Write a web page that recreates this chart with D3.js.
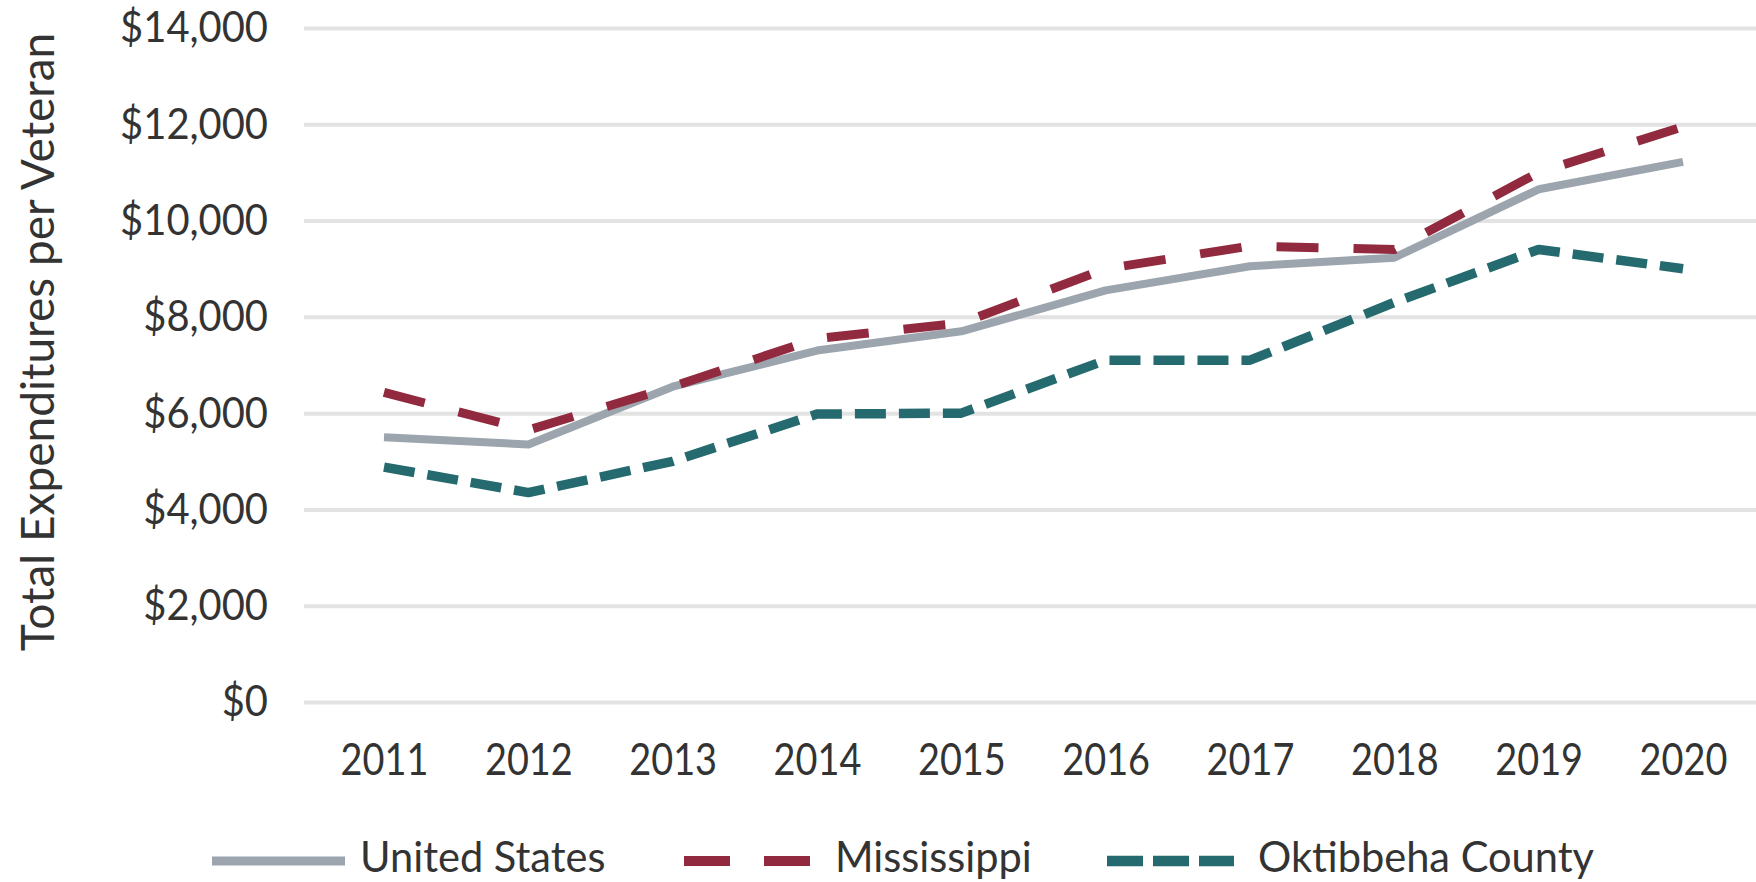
<!DOCTYPE html>
<meta charset="utf-8">
<style>
body { margin: 0; background: #fff; }
text { font-family: Lato, "Open Sans", sans-serif; fill: #333; }
.grid line { stroke: #e3e3e3; stroke-width: 4; }
.line { fill: none; }
</style>
<body>
<div id="chart"></div>
<script src="https://d3js.org/d3.v7.min.js"></script>
<script>
// data
var years = ["2011", "2012", "2013", "2014", "2015", "2016", "2017", "2018", "2019", "2020"];
var unitedStates = [5500, 5350, 6550, 7300, 7700, 8550, 9050, 9230, 10650, 11220];
var mississippi  = [6430, 5650, 6550, 7550, 7870, 9000, 9470, 9400, 11000, 11950];
var oktibbeha    = [4880, 4350, 5000, 5980, 6000, 7100, 7100, 8300, 9400, 9000];
var yTicks = [0, 2000, 4000, 6000, 8000, 10000, 12000, 14000];
var seriesNames = ["United States", "Mississippi", "Oktibbeha County"];
var yTitle = "Total Expenditures per Veteran";

var W = 1756, H = 882;
var plot = {left: 304, right: 1756, top: 28, bottom: 702};

// line look per series
var styles = [
  {color: "#9ca4ae", width: 8, dash: null},
  {color: "#922a3f", width: 9, dash: "42,35"},
  {color: "#256a6e", width: 9.5, dash: "31,13"}
];

var svg = d3.select("#chart").append("svg")
    .attr("width", W)
    .attr("height", H);

var x = d3.scalePoint()
    .domain(years)
    .range([384, 1683]);

var y = d3.scaleLinear()
    .domain([0, 14000])
    .range([plot.bottom, plot.top]);

// squeeze text a bit, the reference font is narrow
function squeeze(sel, k) {
  sel.each(function() {
    var len = this.getComputedTextLength();
    d3.select(this).attr("textLength", len * k).attr("lengthAdjust", "spacingAndGlyphs");
  });
}

// gridlines + y labels
var yAxis = svg.append("g")
    .attr("class", "grid")
    .attr("transform", "translate(" + plot.left + ",0)")
    .call(d3.axisLeft(y)
      .tickValues(yTicks)
      .tickSize(-(plot.right - plot.left))
      .tickPadding(36)
      .tickFormat(function(d) { return "$" + d3.format(",")(d); }));
yAxis.select(".domain").remove();
yAxis.selectAll("text")
    .attr("font-size", 42)
    .attr("font-family", "Lato")
    .attr("fill", "#333")
    .attr("dy", "0.33em")
    .call(squeeze, 0.95);

// x labels
var xAxis = svg.append("g")
    .attr("transform", "translate(0," + plot.bottom + ")")
    .call(d3.axisBottom(x).tickSize(0).tickPadding(0));
xAxis.select(".domain").remove();
xAxis.selectAll("text")
    .attr("font-size", 44)
    .attr("font-family", "Lato")
    .attr("fill", "#333")
    .attr("dy", 0)
    .attr("y", 73)
    .call(squeeze, 0.86);

// y title
svg.append("text")
    .attr("transform", "translate(54,342) rotate(-90)")
    .attr("text-anchor", "middle")
    .attr("font-size", 46)
    .text(yTitle);

var line = d3.line()
    .x(function(d, i) { return x(years[i]); })
    .y(function(d) { return y(d); });

var allSeries = [unitedStates, mississippi, oktibbeha];
allSeries.forEach(function(vals, i) {
  var s = styles[i];
  svg.append("path")
      .datum(vals)
      .attr("class", "line")
      .attr("stroke", s.color)
      .attr("stroke-width", s.width)
      .attr("stroke-dasharray", s.dash)
      .attr("stroke-linejoin", "round")
      .attr("d", line);
});

// legend
var legendItems = [
  {x1: 212, x2: 345, tx: 360},
  {x1: 684, x2: 810, tx: 835},
  {x1: 1107, x2: 1234, tx: 1258}
];
var legendY = 861;
legendItems.forEach(function(it, i) {
  var s = styles[i];
  svg.append("line")
      .attr("x1", it.x1).attr("x2", it.x2)
      .attr("y1", legendY).attr("y2", legendY)
      .attr("stroke", s.color)
      .attr("stroke-width", s.width + 1)
      .attr("stroke-dasharray", i == 2 ? "36,10" : (i == 1 ? "46,34" : null));
  svg.append("text")
      .attr("x", it.tx)
      .attr("y", 872)
      .attr("font-size", 42)
      .text(seriesNames[i])
      .call(squeeze, 0.99);
});
</script>
</body>
